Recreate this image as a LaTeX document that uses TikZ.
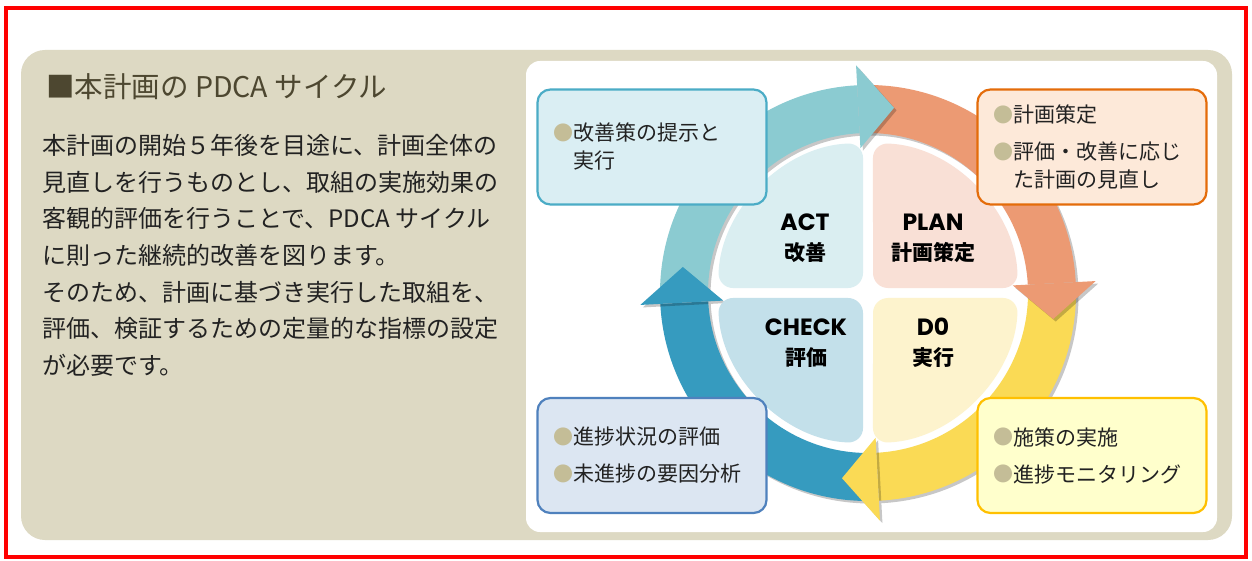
\documentclass[tikz,border=0pt]{standalone}
\usepackage{fontspec}
\setmainfont{Noto Sans CJK JP}
\newfontfamily\geofont{Poppins}
\usetikzlibrary{shadows}

\definecolor{framered}{HTML}{FF0000}
\definecolor{panelbg}{HTML}{DDD9C3}
\definecolor{titlec}{HTML}{4D4730}
\definecolor{textc}{HTML}{222222}
\definecolor{dotc}{HTML}{C4BD97}
\definecolor{actarr}{HTML}{8BCBD1}
\definecolor{planarr}{HTML}{EC9A73}
\definecolor{doarr}{HTML}{FADA55}
\definecolor{chkarr}{HTML}{369BBF}
\definecolor{actq}{HTML}{DAEEF1}
\definecolor{planq}{HTML}{F9E0D6}
\definecolor{doq}{HTML}{FDF3CD}
\definecolor{chkq}{HTML}{C3E0EA}
\definecolor{actfill}{HTML}{DAEEF3}
\definecolor{actline}{HTML}{4BACC6}
\definecolor{planfill}{HTML}{FDE9D9}
\definecolor{planline}{HTML}{E46C0A}
\definecolor{dofill}{HTML}{FFFFCC}
\definecolor{doline}{HTML}{FFC000}
\definecolor{chkfill}{HTML}{DCE6F2}
\definecolor{chkline}{HTML}{4F81BD}

% 项目符号
\newcommand{\dotmark}{\textcolor{dotc}{\fontsize{20pt}{20pt}\selectfont\raisebox{0.5pt}{●}}}
\newcommand{\dotgap}{\phantom{\fontsize{20pt}{20pt}\selectfont ●}}
% 扇形标题（英文）
\newcommand{\qhead}[1]{{\fontsize{23.5pt}{30pt}\selectfont\geofont #1}}

% 环形箭头：#1 起始角, #2 颜色
\newcommand{\cyclebody}[2]{%
  \fill[#2,arrshadow] (#1:208) arc[start angle=#1,end angle=#1-87,radius=208]
    -- (#1-87:160) arc[start angle=#1-87,end angle=#1,radius=160] -- cycle;}
\newcommand{\cyclehead}[2]{%
  \fill[#2,arrshadow] (#1-87:228) -- (#1-98:187) -- (#1-87:145) -- cycle;}

\begin{document}
\begin{tikzpicture}[x=1pt,y=1pt,
  arrshadow/.style={drop shadow={shadow xshift=2.5pt,shadow yshift=-2.5pt,fill=black,opacity=0.22}},
  quad/.style={rounded corners=15pt},
  infobox/.style={rectangle,rounded corners=13pt,line width=2.2pt,text width=197pt,
    inner xsep=16pt,minimum width=229pt,minimum height=115pt,align=left,text=textc,
    font=\fontsize{21pt}{28pt}\selectfont},
  qlabel/.style={align=center,text=black,font=\fontsize{21pt}{30pt}\selectfont\bfseries}]
  \useasboundingbox (0,0) rectangle (1252,560);
  \fill[white] (0,0) rectangle (1252,560);

  % 外框
  \draw[framered,line width=4pt] (6,3) rectangle (1246,552);
  \fill[panelbg,rounded corners=24pt] (21,510) rectangle (1232,20);
  \fill[white,rounded corners=14pt] (526,499) rectangle (1217,28);

  % 左侧文字
  \node[anchor=west,inner sep=0pt,text=titlec,font=\fontsize{28.5pt}{28.5pt}\selectfont]
    (title) at (46,473) {■本計画の PDCA サイクル};
  \node[anchor=north west,inner sep=0pt,align=left,text=textc,
    font=\fontsize{24pt}{36.7pt}\selectfont] (body) at (42,426)
    {本計画の開始５年後を目途に、計画全体の\\
     見直しを行うものとし、取組の実施効果の\\
     客観的評価を行うことで、PDCA サイクル\\
     に則った継続的改善を図ります。\\
     そのため、計画に基づき実行した取組を、\\
     評価、検証するための定量的な指標の設定\\
     が必要です。};

  % 循环箭头
  \coordinate (C) at (868,267);
  \begin{scope}[shift={(C)}]
    \cyclebody{180}{actarr}
    \cyclebody{90}{planarr}
    \cyclebody{0}{doarr}
    \cyclebody{-90}{chkarr}
    \cyclehead{180}{actarr}
    \cyclehead{90}{planarr}
    \cyclehead{0}{doarr}
    \cyclehead{-90}{chkarr}

    % 四个扇形
    \fill[actq,quad] (-5,5) -- (91.9:150) arc[start angle=91.9,end angle=178.1,radius=150] -- cycle;
    \fill[planq,quad] (5,5) -- (1.9:150) arc[start angle=1.9,end angle=88.1,radius=150] -- cycle;
    \fill[doq,quad] (5,-5) -- (-88.1:150) arc[start angle=-88.1,end angle=-1.9,radius=150] -- cycle;
    \fill[chkq,quad] (-5,-5) -- (181.9:150) arc[start angle=181.9,end angle=268.1,radius=150] -- cycle;
  \end{scope}

  \node[qlabel] (actlbl) at (805,322) {\qhead{ACT}\\改善};
  \node[qlabel] (planlbl) at (933,322) {\qhead{PLAN}\\計画策定};
  \node[qlabel] (chklbl) at (806,217) {\qhead{CHECK}\\評価};
  \node[qlabel] (dolbl) at (933,217) {\qhead{D0}\\実行};

  % 说明框
  \node[infobox,draw=actline,fill=actfill] (actbox) at (652,413)
    {\dotmark 改善策の提示と\\\dotgap 実行};
  \node[infobox,draw=planline,fill=planfill] (planbox) at (1092,413)
    {\dotmark 計画策定\\[9pt]\dotmark 評価・改善に応じ\\\dotgap た計画の見直し};
  \node[infobox,draw=doline,fill=dofill] (dobox) at (1092,104.5)
    {\dotmark 施策の実施\\[9pt]\dotmark 進捗モニタリング};
  \node[infobox,draw=chkline,fill=chkfill] (chkbox) at (652,104.5)
    {\dotmark 進捗状況の評価\\[9pt]\dotmark 未進捗の要因分析};
\end{tikzpicture}
\end{document}
